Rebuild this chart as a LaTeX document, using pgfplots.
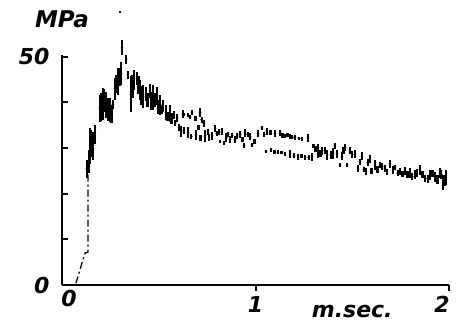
\documentclass[border=0pt]{standalone}
\usepackage{fontspec}
\setmainfont{DejaVu Sans}
\usepackage{pgfplots}
\pgfplotsset{compat=1.18}
\usepackage{pgfplotstable}
\pgfplotstableread{
x y e
0.129 25.5 2
0.140 27 2.5
0.145 30.5 4
0.150 31 3
0.160 30.5 3
0.170 33 2
0.196 38.7 3
0.201 39 3
0.212 39.7 3.5
0.218 40.5 2.5
0.227 39.5 2.8
0.238 38.5 2.5
0.248 38.4 2.6
0.255 37.5 2
0.264 39.5 1
0.274 43 2.4
0.282 44 2
0.289 44.6 3
0.297 45.5 2
0.305 46.4 2.5
0.310 52 1.6
0.331 49.5 1
0.341 46 0.9
0.357 41.8 3.9
0.364 43.5 2.5
0.372 45 2.2
0.388 45.3 1.4
0.395 43.8 2
0.403 42.8 2.2
0.410 41.5 2
0.419 41.3 2.5
0.434 41.8 1.5
0.442 40.5 1.5
0.455 42.5 1.6
0.462 40.3 2
0.470 41.1 2.7
0.480 40.5 1.5
0.491 41.4 1.9
0.498 39 1.5
0.506 39.5 2.2
0.515 38.5 1
0.522 39.2 1.3
0.537 37.8 1.6
0.545 37 1
0.558 37.6 1.9
0.566 36.5 1.2
0.579 37.3 0.9
0.585 35.5 0.6
0.594 36.6 0.9
0.605 34.5 0.8
0.615 33.7 1.2
0.630 33.9 0.8
0.630 37.3 0.3
0.625 37.5 0.8
0.651 37.3 0.4
0.662 36.8 0.5
0.672 37.8 0.5
0.690 36.5 0.6
0.705 34.5 0.5
0.713 37.8 1
0.722 36.2 0.6
0.734 35.4 0.8
0.651 33.4 1.2
0.668 32.5 0.6
0.693 32.9 1.1
0.715 32.2 0.6
0.739 32.7 1.3
0.755 33.5 0.6
0.760 32.3 0.7
0.775 32.7 0.9
0.791 34.3 0.8
0.800 33.2 0.6
0.812 33.5 0.6
0.827 33.6 0.8
0.848 32.3 1
0.858 33.0 0.6
0.868 31.9 0.8
0.880 32.8 0.6
0.894 31.9 0.8
0.905 32.6 0.6
0.920 33 0.8
0.837 31.1 0.5
0.817 31.4 0.3
0.932 31.9 0.6
0.946 33.3 0.9
0.960 33.0 0.5
0.972 32.5 0.7
0.941 30.6 0.5
0.982 30.7 0.5
0.995 31.5 0.5
1.013 33.2 0.8
1.034 34.4 0.5
1.045 33.0 0.5
1.059 33.6 0.8
1.078 33.4 0.5
1.101 33.2 0.8
1.054 29.3 0.3
1.080 29.6 0.4
1.127 33.3 0.7
1.140 32.8 0.5
1.152 32.6 0.4
1.098 29.2 0.4
1.116 29.1 0.5
1.135 29.0 0.4
1.152 28.7 0.4
1.165 32.9 0.5
1.178 32.6 0.5
1.190 32.4 0.4
1.204 32.3 0.5
1.178 28.7 0.9
1.198 28.4 0.5
1.220 28 0.7
1.225 32.1 0.4
1.240 32 0.4
1.271 32.2 0.8
1.238 28.2 0.4
1.256 27.9 0.5
1.275 28.0 0.5
1.292 28.1 0.9
1.300 30.5 0.5
1.310 29.8 0.6
1.323 28.7 0.9
1.323 30.2 0.8
1.335 28.8 0.8
1.344 29.4 0.9
1.360 29.5 0.7
1.370 28.5 1.1
1.390 28.5 0.8
1.401 28.9 1.2
1.410 30.5 0.6
1.421 28.7 0.9
1.447 28.2 0.9
1.455 29.4 0.8
1.463 30.2 0.8
1.488 29.4 0.8
1.437 26.3 0.5
1.473 26.3 0.5
1.500 28.6 0.8
1.514 28.7 0.9
1.530 25.6 0.8
1.540 27 0.6
1.550 28.2 0.9
1.560 25.3 0.5
1.571 24.9 0.8
1.580 26.8 0.8
1.592 27.6 0.9
1.600 25.0 0.6
1.618 26.3 1.1
1.630 25.3 0.8
1.643 26.3 0.7
1.655 26.0 0.7
1.669 25.6 0.8
1.680 24.8 0.6
1.695 26.6 0.9
1.710 25.2 0.8
1.721 25.8 0.5
1.735 24.5 0.6
1.747 24.8 0.8
1.760 24.3 0.7
1.773 25 0.9
1.785 24.2 0.8
1.798 24.6 1.1
1.810 23.8 0.8
1.824 24.2 0.9
1.835 24.5 0.9
1.850 25.2 1.1
1.863 24.2 0.8
1.876 23.4 0.8
1.890 23.3 0.9
1.902 24.1 1.1
1.915 24.5 0.8
1.928 23.7 1.1
1.940 23.2 1.0
1.953 24.6 1.1
1.960 24.2 0.9
1.969 22.5 1.6
1.977 23 1.2
1.984 23.6 1.6
}\trace
\begin{document}
\begin{tikzpicture}
\useasboundingbox (-62pt,-46pt) rectangle (398pt,285pt);
\begin{axis}[
  at={(0,0)}, anchor=south west,
  scale only axis, width=387pt, height=230pt,
  xmin=0, xmax=2, ymin=0, ymax=50.4,
  axis lines*=left,
  axis line style={line width=2.2pt, black},
  clip=false,
  tick align=inside,
  major tick length=6pt,
  every tick/.style={black, line width=2pt},
  ytick={0,10,20,30,40,50},
  yticklabels={0,,,,,50},
  xtick={0},
  xticklabels={\hspace*{14pt}0},
  extra x ticks={1,2},
  extra x tick labels={1,2\hspace*{14pt}},
  extra x tick style={tick align=outside, major tick length=6pt},
  /pgf/number format/assume math mode=true,
  ticklabel style={font=\fontsize{22}{24}\selectfont\bfseries\itshape},
  xticklabel style={yshift=-2pt},
  yticklabel style={xshift=-9pt},
]
\addplot[dash pattern=on 7pt off 3pt on 2pt off 3pt, line width=1.3pt, black]
  coordinates {(0.072,0.4) (0.119,7.0) (0.134,7.2) (0.134,25.2)};
\addplot[only marks, mark=*, mark size=1.1pt, black,
  error bars/.cd, y dir=both, y explicit, error mark=none,
  error bar style={line width=2.4pt, black}]
  table[x=x, y=y, y error=e] {\trace};
\addplot[only marks, mark=*, mark size=1pt, black] coordinates {(0.30,59.8)};
\node[font=\fontsize{23}{26}\selectfont\bfseries\itshape] at (rel axis cs:0.0,1.155) {MPa};
\node[font=\fontsize{22}{24}\selectfont\bfseries\itshape] at (axis cs:1.5,-5.9) {m.sec.};
\end{axis}
\end{tikzpicture}
\end{document}
